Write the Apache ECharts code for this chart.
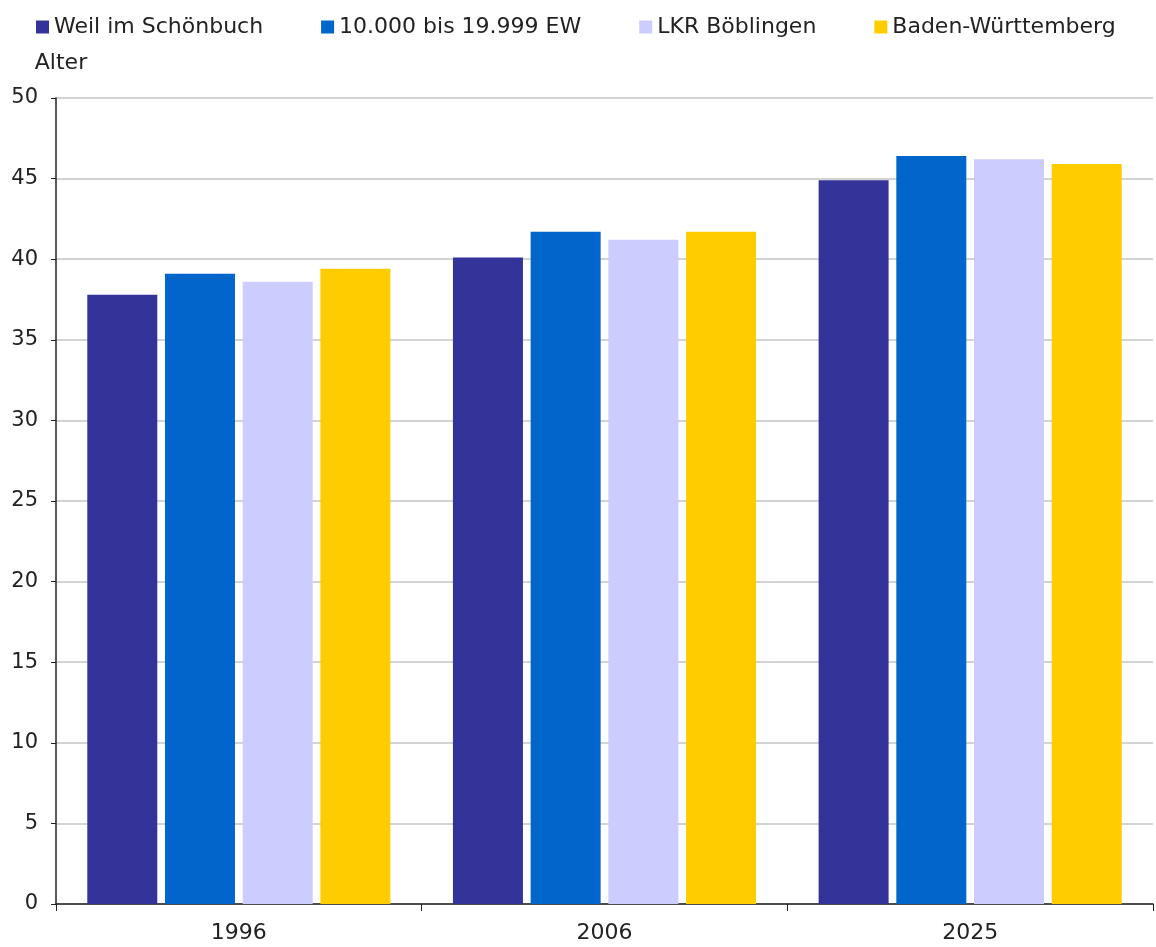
<!DOCTYPE html>
<html>
<head>
<meta charset="utf-8">
<script src="https://cdn.jsdelivr.net/npm/echarts@6/dist/echarts.min.js"></script>
<style>html,body{margin:0;padding:0;background:#fff;}#c{width:1156px;height:947px;}</style>
</head>
<body>
<div id="c"></div>
<script>
const categories = ['1996', '2006', '2025'];
const seriesNames = ['Weil im Schönbuch', '10.000 bis 19.999 EW', 'LKR Böblingen', 'Baden-Württemberg'];
const weil = [37.8, 40.1, 44.9];
const ew10000 = [39.1, 41.7, 46.4];
const lkr = [38.6, 41.2, 46.2];
const bw = [39.4, 41.7, 45.9];
const colors = ['#333399', '#0066cc', '#ccccff', '#ffcc00'];
const yTicks = [0, 5, 10, 15, 20, 25, 30, 35, 40, 45, 50];
const yAxisTitle = 'Alter';

const font = 'DejaVu Sans, Verdana, sans-serif';
const values = [weil, ew10000, lkr, bw];
const chart = echarts.init(document.getElementById('c'), null, {renderer: 'canvas'});
chart.setOption({
  animation: false,
  color: colors,
  textStyle: {fontFamily: font},
  legend: {
    left: 31, top: 11,
    itemWidth: 13, itemHeight: 13, itemGap: 58,
    icon: 'rect',
    textStyle: {fontSize: 22, color: '#222', fontFamily: font},
    data: seriesNames
  },
  grid: {left: 56, right: 3, top: 98, bottom: 43, containLabel: false},
  xAxis: {
    type: 'category',
    data: categories,
    axisLine: {lineStyle: {color: '#222', width: 1.5}},
    axisTick: {show: true, length: 7, lineStyle: {color: '#222'}},
    axisLabel: {fontSize: 22, color: '#222', margin: 18, fontFamily: font}
  },
  yAxis: {
    type: 'value',
    min: yTicks[0], max: yTicks[yTicks.length - 1], interval: 5,
    name: yAxisTitle,
    nameLocation: 'end',
    nameGap: 24,
    nameTextStyle: {fontSize: 22, color: '#222', align: 'center', padding: [0, 0, 0, 10], fontFamily: font},
    axisLine: {show: true, lineStyle: {color: '#222', width: 1.5}},
    axisTick: {show: true, length: 5, lineStyle: {color: '#222'}},
    axisLabel: {fontSize: 21, color: '#222', margin: 18, fontFamily: font},
    splitLine: {lineStyle: {color: '#c4c4c4', width: 1.5}}
  },
  series: seriesNames.map((n, i) => ({
    name: n,
    type: 'bar',
    data: values[i],
    barWidth: 70,
    barGap: '11%',
    itemStyle: {color: colors[i]}
  }))
});
</script>
</body>
</html>
